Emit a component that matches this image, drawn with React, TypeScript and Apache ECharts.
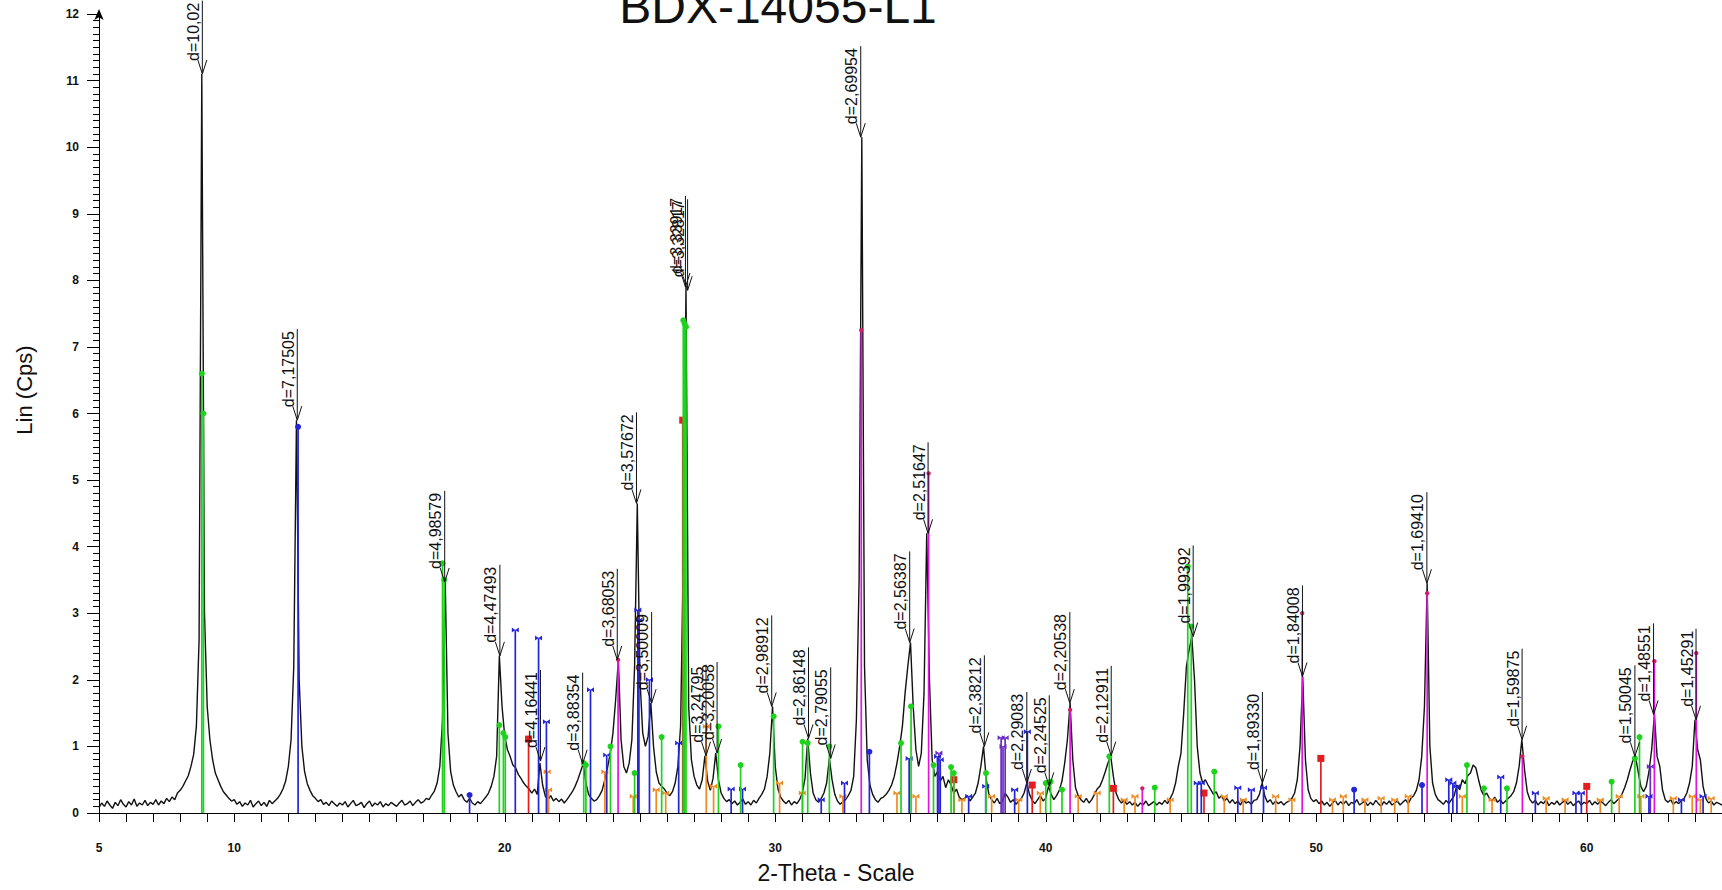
import { useEffect, useRef } from 'react';
import * as echarts from 'echarts';

const TITLE = 'BDX-14055-L1';
const X_NAME = '2-Theta - Scale';
const Y_NAME = 'Lin (Cps)';

// scan grid of the measured pattern (2-theta, degrees)
const SCAN_START = 5;
const SCAN_STEP = 0.1;

// intensity (Lin Cps), one row per degree (5.0 ... 64.9), then 65.0
const intensity = [
  0.08, 0.15, 0.10, 0.18, 0.12, 0.07, 0.16, 0.11, 0.20, 0.13,
  0.09, 0.17, 0.12, 0.21, 0.10, 0.15, 0.12, 0.19, 0.11, 0.16,
  0.13, 0.20, 0.12, 0.18, 0.14, 0.22, 0.17, 0.24, 0.20, 0.30,
  0.34, 0.40, 0.48, 0.56, 0.70, 0.88, 1.30, 2.60, 11.10, 3.00,
  1.60, 1.10, 0.80, 0.60, 0.50, 0.40, 0.32, 0.27, 0.22, 0.18,
  0.20, 0.13, 0.17, 0.10, 0.15, 0.12, 0.19, 0.09, 0.14, 0.18,
  0.11, 0.16, 0.10, 0.19, 0.14, 0.18, 0.22, 0.28, 0.36, 0.48,
  0.70, 1.10, 2.20, 5.90, 2.00, 1.00, 0.62, 0.44, 0.34, 0.26,
  0.22, 0.17, 0.20, 0.13, 0.16, 0.11, 0.18, 0.14, 0.10, 0.15,
  0.12, 0.17, 0.09, 0.14, 0.19, 0.11, 0.13, 0.16, 0.08, 0.14,
  0.18, 0.10, 0.15, 0.12, 0.17, 0.09, 0.14, 0.11, 0.16, 0.13,
  0.10, 0.15, 0.19, 0.12, 0.14, 0.18, 0.11, 0.16, 0.20, 0.15,
  0.17, 0.22, 0.20, 0.27, 0.33, 0.45, 0.70, 1.40, 3.47, 1.20,
  0.62, 0.42, 0.32, 0.24, 0.28, 0.20, 0.16, 0.22, 0.15, 0.12,
  0.17, 0.14, 0.19, 0.24, 0.30, 0.40, 0.55, 0.85, 2.36, 1.60,
  1.15, 0.95, 0.85, 0.72, 0.68, 0.58, 0.52, 0.45, 0.40, 0.36,
  0.30, 0.36, 0.28, 0.75, 0.42, 0.25, 0.20, 0.26, 0.18, 0.22,
  0.17, 0.21, 0.15, 0.20, 0.26, 0.32, 0.40, 0.50, 0.62, 0.74,
  0.45, 0.28, 0.22, 0.18, 0.20, 0.26, 0.34, 0.50, 0.68, 0.90,
  1.20, 1.70, 2.30, 1.10, 0.70, 0.60, 0.75, 1.10, 2.20, 4.65,
  2.00, 1.20, 1.00, 1.15, 1.65, 1.00, 0.62, 0.45, 0.40, 0.36,
  0.30, 0.26, 0.32, 0.45, 0.70, 1.30, 3.80, 7.90, 1.60, 0.80,
  0.55, 0.42, 0.36, 0.50, 0.86, 0.48, 0.34, 0.52, 0.90, 0.50,
  0.30, 0.22, 0.17, 0.20, 0.14, 0.18, 0.12, 0.16, 0.21, 0.13,
  0.17, 0.12, 0.19, 0.15, 0.22, 0.28, 0.36, 0.55, 0.90, 1.60,
  0.70, 0.36, 0.24, 0.18, 0.14, 0.19, 0.12, 0.17, 0.14, 0.20,
  0.30, 0.52, 1.12, 0.60, 0.30, 0.20, 0.16, 0.22, 0.30, 0.45,
  0.82, 0.50, 0.28, 0.18, 0.13, 0.17, 0.20, 0.26, 0.34, 0.55,
  1.40, 3.50, 10.15, 2.20, 0.80, 0.42, 0.28, 0.20, 0.16, 0.22,
  0.24, 0.28, 0.34, 0.42, 0.55, 0.75, 1.00, 1.30, 1.80, 2.20,
  2.56, 1.60, 0.95, 0.70, 0.90, 1.80, 4.20, 2.00, 0.80, 0.55,
  0.62, 0.48, 0.55, 0.38, 0.50, 0.42, 0.30, 0.36, 0.24, 0.20,
  0.22, 0.26, 0.18, 0.24, 0.30, 0.45, 0.70, 1.00, 0.50, 0.28,
  0.20, 0.15, 0.22, 0.14, 0.18, 0.30, 0.24, 0.16, 0.20, 0.13,
  0.18, 0.22, 0.30, 0.45, 0.28, 0.19, 0.14, 0.20, 0.26, 0.18,
  0.22, 0.40, 0.28, 0.20, 0.26, 0.34, 0.48, 0.75, 1.10, 1.65,
  0.80, 0.38, 0.26, 0.20, 0.16, 0.22, 0.15, 0.20, 0.28, 0.36,
  0.40, 0.50, 0.62, 0.75, 0.86, 0.55, 0.30, 0.20, 0.15, 0.19,
  0.13, 0.17, 0.12, 0.16, 0.10, 0.15, 0.12, 0.18, 0.11, 0.14,
  0.17, 0.12, 0.16, 0.13, 0.19, 0.14, 0.22, 0.30, 0.45, 0.70,
  0.90, 1.50, 2.20, 2.45, 2.65, 2.00, 1.00, 0.60, 0.45, 0.50,
  0.42, 0.35, 0.28, 0.32, 0.22, 0.26, 0.18, 0.22, 0.15, 0.20,
  0.14, 0.18, 0.12, 0.20, 0.15, 0.17, 0.13, 0.19, 0.20, 0.28,
  0.45, 0.25, 0.16, 0.20, 0.13, 0.18, 0.14, 0.17, 0.12, 0.16,
  0.18, 0.22, 0.30, 0.50, 1.00, 2.05, 0.80, 0.35, 0.22, 0.17,
  0.20, 0.14, 0.18, 0.12, 0.16, 0.10, 0.15, 0.19, 0.12, 0.17,
  0.13, 0.18, 0.11, 0.16, 0.14, 0.20, 0.12, 0.15, 0.18, 0.11,
  0.16, 0.12, 0.19, 0.14, 0.10, 0.17, 0.13, 0.18, 0.12, 0.15,
  0.18, 0.12, 0.16, 0.20, 0.14, 0.22, 0.26, 0.34, 0.50, 0.85,
  1.60, 3.45, 1.00, 0.45, 0.28, 0.20, 0.17, 0.13, 0.19, 0.14,
  0.20, 0.26, 0.42, 0.35, 0.50, 0.44, 0.56, 0.60, 0.72, 0.68,
  0.50, 0.34, 0.26, 0.30, 0.22, 0.18, 0.24, 0.16, 0.20, 0.14,
  0.18, 0.22, 0.26, 0.32, 0.45, 0.70, 1.10, 0.65, 0.32, 0.20,
  0.15, 0.19, 0.12, 0.17, 0.14, 0.20, 0.11, 0.16, 0.13, 0.18,
  0.12, 0.16, 0.19, 0.13, 0.17, 0.11, 0.15, 0.18, 0.12, 0.16,
  0.14, 0.19, 0.12, 0.17, 0.13, 0.18, 0.15, 0.11, 0.16, 0.20,
  0.14, 0.18, 0.22, 0.28, 0.38, 0.50, 0.65, 0.78, 0.85, 0.62,
  0.40, 0.32, 0.40, 0.62, 0.95, 1.48, 0.85, 0.70, 0.35, 0.20,
  0.16, 0.20, 0.13, 0.17, 0.14, 0.19, 0.22, 0.30, 0.45, 0.70,
  1.40, 0.95, 0.80, 0.40, 0.22, 0.15, 0.18, 0.12, 0.16, 0.14,
  0.12,
];

// d-spacing annotations: label, 2-theta, arrow tip height
const peakLabel = [
  'd=10,02', 'd=7,17505', 'd=4,98579', 'd=4,47493', 'd=4,16441', 'd=3,88354',
  'd=3,68053', 'd=3,57672', 'd=3,50009', 'd=3,33917', 'd=3,32817', 'd=3,24795',
  'd=3,20058', 'd=2,98912', 'd=2,86148', 'd=2,79055', 'd=2,69954', 'd=2,56387',
  'd=2,51647', 'd=2,38212', 'd=2,29083', 'd=2,24525', 'd=2,20538', 'd=2,12911',
  'd=1,99392', 'd=1,89330', 'd=1,84008', 'd=1,69410', 'd=1,59875', 'd=1,50045',
  'd=1,48551', 'd=1,45291',
];
const peakTheta = [
  8.82, 12.33, 17.78, 19.82, 21.32, 22.88,
  24.16, 24.87, 25.43, 26.68, 26.76, 27.44,
  27.85, 29.87, 31.23, 32.05, 33.16, 34.97,
  35.65, 37.73, 39.30, 40.13, 40.89, 42.42,
  45.45, 48.01, 49.49, 54.09, 57.61, 61.78,
  62.47, 64.04,
];
const peakTop = [
  11.1, 5.9, 3.47, 2.36, 0.78, 0.74,
  2.3, 4.65, 1.65, 7.9, 7.85, 0.86,
  0.9, 1.6, 1.12, 0.82, 10.15, 2.56,
  4.2, 1.0, 0.45, 0.4, 1.65, 0.86,
  2.65, 0.45, 2.05, 3.45, 1.1, 0.85,
  1.48, 1.4,
];

// reference phase sticks: [2-theta, height]
const greenSticks = [
  [8.80, 6.6], [8.86, 6.0], [17.70, 3.75], [17.76, 3.5], [19.80, 1.32], [19.95, 1.2],
  [20.02, 1.14], [22.92, 0.75], [23.00, 0.72], [23.91, 1.0], [24.80, 0.6], [25.80, 1.14],
  [26.60, 7.4], [26.65, 7.35], [26.70, 7.3], [27.90, 1.3], [28.72, 0.72], [29.94, 1.45],
  [31.01, 1.07], [31.20, 1.05], [32.00, 1.0], [34.65, 1.05], [35.02, 1.6], [35.85, 0.72],
  [36.50, 0.69], [36.60, 0.6], [37.79, 0.6], [40.00, 0.45], [40.18, 0.47], [40.60, 0.35],
  [42.35, 0.85], [44.03, 0.38], [45.25, 3.7], [45.38, 2.8], [46.23, 0.62], [55.57, 0.72],
  [56.20, 0.37], [57.05, 0.37], [60.92, 0.47], [61.78, 0.82], [61.95, 1.14],
];
const blueSticks = [
  [20.39, 2.75], [21.25, 2.63], [21.54, 1.37], [23.17, 1.85], [23.77, 0.87], [24.92, 3.05],
  [24.96, 2.9], [25.35, 2.0], [26.43, 1.05], [28.37, 0.36], [28.79, 0.36], [31.70, 0.2],
  [32.56, 0.45], [34.95, 0.82], [36.00, 0.85], [36.10, 0.8], [37.15, 0.25], [37.78, 0.4],
  [38.85, 0.35], [39.32, 1.22], [45.60, 0.45], [45.75, 0.45], [47.10, 0.38], [47.60, 0.35],
  [48.05, 0.38], [54.90, 0.5], [55.05, 0.45], [55.20, 0.4], [56.82, 0.54], [58.10, 0.3],
  [59.60, 0.3], [59.80, 0.3], [62.30, 0.25], [63.50, 0.2], [64.30, 0.25],
];
const blueDotSticks = [
  [12.36, 5.8], [18.70, 0.27], [33.48, 0.92], [51.40, 0.35], [53.91, 0.42],
];
const magentaSticks = [
  [24.19, 2.3], [33.18, 7.25], [35.67, 5.1], [40.90, 1.55], [43.57, 0.37], [49.48, 3.0],
  [54.10, 3.3], [57.62, 0.85], [62.50, 2.28], [64.05, 2.4],
];
const redSticks = [
  [20.88, 1.11], [26.58, 5.9], [36.60, 0.5], [39.50, 0.42], [42.50, 0.37], [45.85, 0.3],
  [50.17, 0.82], [60.00, 0.4],
];
const purpleSticks = [
  [36.05, 0.9], [38.35, 1.13], [38.42, 1.0], [38.50, 1.13], [62.35, 0.7],
];
const orangeSticks = [
  [21.57, 0.62], [21.62, 0.35], [23.70, 0.62], [24.75, 0.25], [25.60, 0.35], [25.95, 0.3],
  [27.45, 1.3], [27.72, 0.4], [30.16, 0.45], [31.00, 0.3], [32.50, 0.25], [34.50, 0.3],
  [35.20, 0.25], [36.90, 0.2], [38.00, 0.25], [39.00, 0.2], [39.80, 0.3], [41.20, 0.25],
  [41.90, 0.3], [42.90, 0.2], [43.30, 0.25], [44.60, 0.2], [46.60, 0.25], [47.30, 0.2],
  [48.50, 0.25], [49.10, 0.2], [50.60, 0.2], [51.00, 0.25], [51.80, 0.2], [52.40, 0.22],
  [52.90, 0.2], [53.40, 0.25], [55.40, 0.25], [56.50, 0.2], [58.50, 0.22], [59.20, 0.2],
  [60.50, 0.2], [61.20, 0.25], [62.00, 0.25], [63.20, 0.22], [63.90, 0.25], [64.20, 0.2],
  [64.60, 0.22],
];

const FONT = 'Arial, "Liberation Sans", Helvetica, sans-serif';
const INK = '#111';

function markerShape(kind: string, t: number[], color: string): any {
  if (kind === 'circle') {
    return { type: 'circle', shape: { cx: t[0], cy: t[1], r: 3 }, style: { fill: color } };
  }
  if (kind === 'square') {
    return { type: 'rect', shape: { x: t[0] - 3.5, y: t[1] - 3.5, width: 7, height: 7 }, style: { fill: color } };
  }
  if (kind === 'dot') {
    return { type: 'circle', shape: { cx: t[0], cy: t[1], r: 2.2 }, style: { fill: '#d0206a' } };
  }
  return {
    type: 'polygon',
    shape: { points: [[t[0] - 3.5, t[1] - 2.5], [t[0] + 3.5, t[1] + 2.5], [t[0] + 3.5, t[1] - 2.5], [t[0] - 3.5, t[1] + 2.5]] },
    style: { fill: color },
  };
}

function stickSeries(name: string, color: string, marker: string, data: number[][], z: number): any {
  return {
    type: 'custom',
    name,
    coordinateSystem: 'cartesian2d',
    data,
    encode: { x: 0, y: 1 },
    z,
    silent: true,
    renderItem: (_params: any, api: any) => {
      const x = api.value(0);
      const h = api.value(1);
      const b = api.coord([x, 0]);
      const t = api.coord([x, h]);
      return {
        type: 'group',
        children: [
          { type: 'line', shape: { x1: b[0], y1: b[1], x2: t[0], y2: t[1] }, style: { stroke: color, lineWidth: 1.7 } },
          markerShape(marker, t, color),
        ],
      };
    },
  };
}

function textWidth(s: string, font: string): number {
  try {
    const el = new (echarts.graphic as any).Text({ style: { text: s, font } });
    const w = el.getBoundingRect().width;
    if (w > 0) return w;
  } catch (e) {
    /* ignore */
  }
  return s.length * 8.5;
}

const LABEL_FONT = '16px Arial, "Liberation Sans", sans-serif';

function buildOption(): any {
  const spectrum = intensity.map((v, i) => [Number((SCAN_START + i * SCAN_STEP).toFixed(2)), v]);
  const annotations = peakTheta.map((x, i) => [x, peakTop[i]]);

  return {
    animation: false,
    backgroundColor: '#ffffff',
    grid: { left: 99, right: 0, top: 14, bottom: 77, containLabel: false },
    xAxis: {
      type: 'value',
      min: 5,
      max: 65,
      interval: 5,
      axisLine: { show: true, onZero: false, lineStyle: { color: '#000', width: 1 } },
      axisTick: { show: true, length: 9, lineStyle: { color: '#000', width: 1 } },
      minorTick: { show: true, splitNumber: 5, length: 9, lineStyle: { color: '#000', width: 1 } },
      splitLine: { show: false },
      minorSplitLine: { show: false },
      axisLabel: {
        margin: 29,
        color: INK,
        fontSize: 12,
        fontWeight: 'bold',
        fontFamily: FONT,
        formatter: (v: number) => (v === 5 || v % 10 === 0 ? String(v) : ''),
        showMaxLabel: false,
      },
    },
    yAxis: {
      type: 'value',
      min: 0,
      max: 12,
      interval: 1,
      axisLine: {
        show: true,
        lineStyle: { color: '#000', width: 1 },
        symbol: ['none', 'arrow'],
        symbolSize: [7, 11],
        symbolOffset: [0, 5],
      },
      axisTick: { show: true, length: 12, lineStyle: { color: '#000', width: 1 } },
      minorTick: { show: true, splitNumber: 10, length: 6, lineStyle: { color: '#000', width: 1 } },
      splitLine: { show: false },
      minorSplitLine: { show: false },
      axisLabel: { margin: 20, color: INK, fontSize: 12, fontWeight: 'bold', fontFamily: FONT },
    },
    graphic: [
      {
        type: 'text', x: 778, y: 6, z: 100,
        style: { text: TITLE, font: '48px Arial, "Liberation Sans", sans-serif', fill: INK, align: 'center', verticalAlign: 'middle', textAlign: 'center', textVerticalAlign: 'middle' },
      },
      {
        type: 'text', x: 24, y: 390, rotation: Math.PI / 2, z: 100,
        style: { text: Y_NAME, font: '22px Arial, "Liberation Sans", sans-serif', fill: INK, align: 'center', verticalAlign: 'middle', textAlign: 'center', textVerticalAlign: 'middle' },
      },
      {
        type: 'text', x: 836, y: 873, z: 100,
        style: { text: X_NAME, font: '23px Arial, "Liberation Sans", sans-serif', fill: INK, align: 'center', verticalAlign: 'middle', textAlign: 'center', textVerticalAlign: 'middle' },
      },
    ],
    series: [
      {
        type: 'line',
        name: 'pattern',
        data: spectrum,
        showSymbol: false,
        symbol: 'none',
        z: 3,
        lineStyle: { color: '#111', width: 1.4 },
        silent: true,
      },
      stickSeries('orange', '#f08a1e', 'bowtie', orangeSticks, 4),
      stickSeries('red', '#e41e1e', 'square', redSticks, 4),
      stickSeries('purple', '#6a2cc4', 'bowtie', purpleSticks, 4),
      stickSeries('blue', '#2424d8', 'bowtie', blueSticks, 4),
      stickSeries('blue2', '#2424d8', 'circle', blueDotSticks, 4),
      stickSeries('green', '#1ed21e', 'circle', greenSticks, 5),
      stickSeries('magenta', '#e414e0', 'dot', magentaSticks, 5),
      {
        type: 'custom',
        name: 'd-spacing',
        coordinateSystem: 'cartesian2d',
        data: annotations,
        encode: { x: 0, y: 1 },
        z: 8,
        silent: true,
        clip: false,
        renderItem: (params: any, api: any) => {
          const label = peakLabel[params.dataIndex];
          const tip = api.coord([api.value(0), api.value(1)]);
          const w = textWidth(label, LABEL_FONT);
          const gap = 13;
          return {
            type: 'group',
            children: [
              {
                type: 'polyline',
                shape: { points: [[tip[0] - 4.5, tip[1] - 14], [tip[0], tip[1]], [tip[0] + 4.5, tip[1] - 14]] },
                style: { stroke: INK, lineWidth: 1, fill: null },
              },
              {
                type: 'line',
                shape: { x1: tip[0], y1: tip[1], x2: tip[0], y2: tip[1] - gap - w - 2 },
                style: { stroke: INK, lineWidth: 1 },
              },
              {
                type: 'text',
                x: tip[0] - 1,
                y: tip[1] - gap,
                rotation: Math.PI / 2,
                style: { text: label, font: LABEL_FONT, fill: INK, align: 'left', verticalAlign: 'bottom', textAlign: 'left', textVerticalAlign: 'bottom' },
              },
            ],
          };
        },
      },
    ],
  };
}

export default function App() {
  const ref = useRef<HTMLDivElement>(null);
  useEffect(() => {
    if (!ref.current) return;
    const chart = echarts.init(ref.current, null, { renderer: 'svg' });
    chart.setOption(buildOption());
    return () => {
      chart.dispose();
    };
  }, []);
  return (
    <div
      ref={ref}
      style={{ position: 'fixed', left: 0, top: 0, width: 1722, height: 890, background: '#ffffff' }}
    />
  );
}
